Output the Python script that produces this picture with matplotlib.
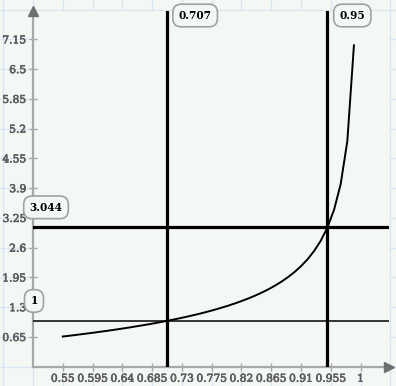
import numpy as np
import matplotlib
matplotlib.use("Agg")
import matplotlib.pyplot as plt
import matplotlib.patheffects as pe

# curve samples
x_vals = [0.55, 0.56, 0.57, 0.58, 0.59, 0.60, 0.61, 0.62, 0.63, 0.64,
          0.65, 0.66, 0.67, 0.68, 0.69, 0.70, 0.71, 0.72, 0.73, 0.74,
          0.75, 0.76, 0.77, 0.78, 0.79, 0.80, 0.81, 0.82, 0.83, 0.84,
          0.85, 0.86, 0.87, 0.88, 0.89, 0.90, 0.91, 0.92, 0.93, 0.94,
          0.95, 0.96, 0.97, 0.98, 0.99]
y_vals = [0.659, 0.676, 0.694, 0.712, 0.731, 0.750, 0.770, 0.790, 0.811, 0.833,
          0.855, 0.879, 0.903, 0.927, 0.953, 0.980, 1.008, 1.038, 1.068, 1.100,
          1.134, 1.169, 1.207, 1.246, 1.289, 1.333, 1.381, 1.433, 1.488, 1.548,
          1.614, 1.685, 1.765, 1.853, 1.952, 2.065, 2.195, 2.347, 2.530, 2.755,
          3.042, 3.429, 3.990, 4.925, 7.018]

# marker lines
v_thick = [0.707, 0.95]
h_thick = [3.044]
h_thin = [1.0]

x_ticks = [0.55, 0.595, 0.64, 0.685, 0.73, 0.775, 0.82, 0.865, 0.91, 0.955, 1.0]
x_labels = ["0.55", "0.595", "0.64", "0.685", "0.73", "0.775", "0.82",
            "0.865", "0.91", "0.955", "1"]
y_ticks = [0.65, 1.3, 1.95, 2.6, 3.25, 3.9, 4.55, 5.2, 5.85, 6.5, 7.15]
y_labels = ["0.65", "1.3", "1.95", "2.6", "3.25", "3.9", "4.55", "5.2",
            "5.85", "6.5", "7.15"]

BG = "#f4f8f5"
GRID = "#d6e6f3"
AX_COL = "#a8a8a8"
LBL_COL = "#5e5e5e"

W, H = 396, 386
fig = plt.figure(figsize=(W / 100, H / 100), dpi=100)
fig.patch.set_facecolor(BG)

x0, x1 = 0.505, 1.043
y0, y1 = 0.0, 7.78
L, R, B, T = 33 / W, 389 / W, (H - 366.7) / H, (H - 10.5) / H
ax = fig.add_axes([L, B, R - L, T - B], zorder=2)
ax.set_xlim(x0, x1)
ax.set_ylim(y0, y1)
ax.set_facecolor(BG)

# worksheet grid behind the plot region
bg = fig.add_axes([0, 0, 1, 1], zorder=0)
sx = (x1 - x0) / (R - L)
sy = (y1 - y0) / (T - B)
bg.set_xlim(x0 - L * sx, x0 + (1 - L) * sx)
bg.set_ylim(y0 - B * sy, y0 + (1 - B) * sy)
bg.set_facecolor(BG)
bg.axis("off")
for k in range(-2, 14):
    bg.axvline(x0 + 0.045 * k, color=GRID, lw=0.9)
for k in range(-2, 14):
    bg.axhline(0.65 * k, color=GRID, lw=0.9)

# lines and curve
for v in v_thick:
    ax.axvline(v, color="black", lw=2.3, zorder=3)
for h in h_thick:
    ax.axhline(h, color="black", lw=2.3, zorder=3)
for h in h_thin:
    ax.axhline(h, color="black", lw=1.1, zorder=3)
ax.plot(x_vals, y_vals, color="black", lw=1.4, zorder=4)

# axes styling
for side in ["top", "right"]:
    ax.spines[side].set_visible(False)
for side in ["left", "bottom"]:
    ax.spines[side].set_color(AX_COL)
    ax.spines[side].set_linewidth(1.6)
ax.plot([0], [1], marker="^", color="#707070", ms=7, transform=ax.transAxes,
        clip_on=False, zorder=5)
ax.plot([1], [0], marker=">", color="#707070", ms=7, transform=ax.transAxes,
        clip_on=False, zorder=5)

ax.set_xticks(x_ticks)
ax.set_xticklabels(x_labels)
ax.set_yticks(y_ticks)
ax.set_yticklabels(y_labels)
ax.tick_params(direction="inout", length=6, width=1.0, color=AX_COL,
               labelcolor=LBL_COL, labelsize=7.7, pad=2)
for lab in ax.get_xticklabels() + ax.get_yticklabels():
    lab.set_family("DejaVu Serif")
    lab.set_path_effects([pe.withStroke(linewidth=0.5, foreground=LBL_COL)])

box = dict(boxstyle="round,pad=0.55,rounding_size=0.8", fc=BG, ec="#a0a0a0", lw=1.2)
txt = dict(fontsize=7.6, family="DejaVu Serif", fontweight="bold", color="black",
           bbox=box, annotation_clip=False, zorder=6)

for v in v_thick:
    ax.annotate(f"{v:g}", xy=(v, 1.0), xycoords=("data", "axes fraction"),
                xytext=(12, -5), textcoords="offset pixels",
                ha="left", va="center", **txt)
ax.annotate(f"{h_thick[0]:g}", xy=(0.0, h_thick[0]), xycoords=("axes fraction", "data"),
            xytext=(13, 20), textcoords="offset pixels", ha="center", va="center", **txt)
ax.annotate(f"{h_thin[0]:g}", xy=(0.0, h_thin[0]), xycoords=("axes fraction", "data"),
            xytext=(1, 20), textcoords="offset pixels", ha="center", va="center", **txt)

fig.savefig("out.png", dpi=100, facecolor=BG)
